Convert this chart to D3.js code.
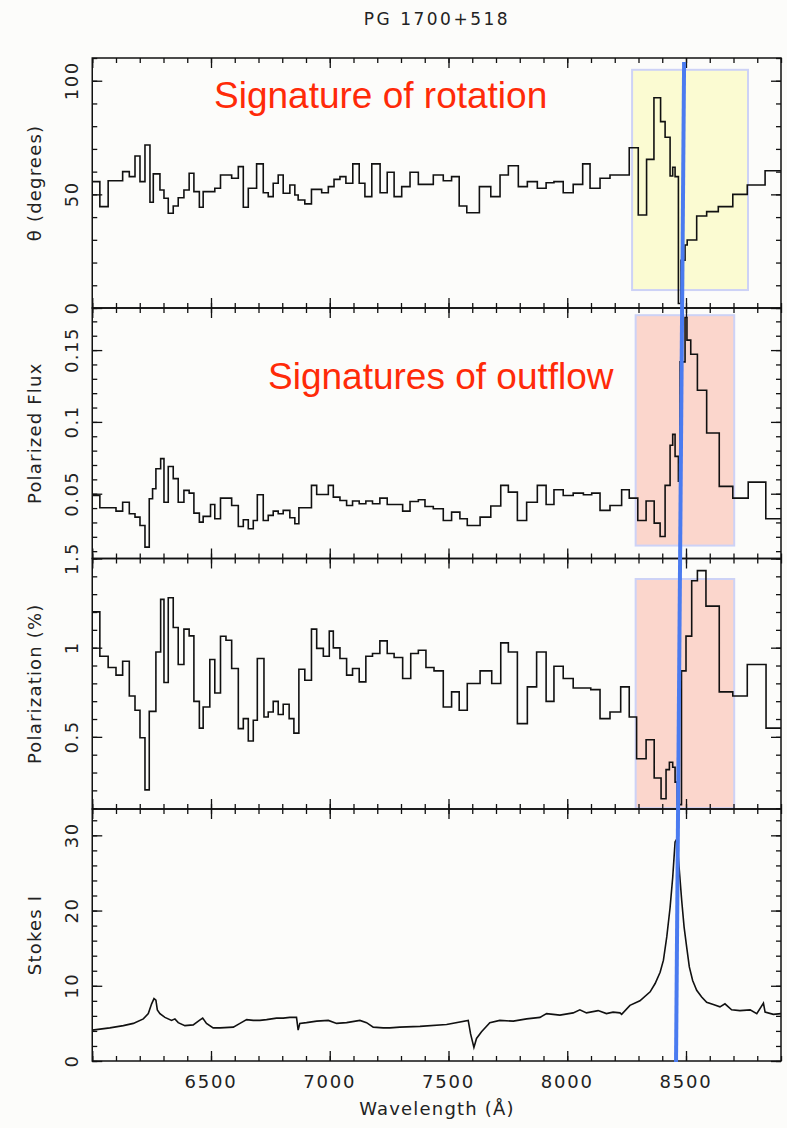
<!DOCTYPE html>
<html>
<head>
<meta charset="utf-8">
<script src="https://cdn.jsdelivr.net/npm/d3@7"></script>
<style>
  body { margin: 0; background: #fcfcfa; }
  text { font-family: "DejaVu Sans", sans-serif; fill: #222; }
</style>
</head>
<body>
<div id="chart"></div>
<script>
// Data
//= ================================
// theta (degrees), binned: bin edges (Angstrom) and one value per bin
var thetaEdges = [6000,6032,6067,6128,6156,6180,6201,6222,6243,6257,6285,6302,6320,6341,6362,6386,6408,6428,6451,6467,6516,6540,6587,6615,6636,6657,6692,6720,6741,6762,6783,6804,6832,6853,6867,6895,6923,6966,6994,7018,7043,7068,7097,7124,7148,7177,7212,7242,7271,7303,7338,7373,7436,7478,7513,7545,7577,7630,7678,7717,7752,7794,7832,7874,7911,7944,7983,8025,8065,8096,8138,8180,8261,8299,8334,8365,8393,8412,8433,8444,8454,8468,8479,8496,8505,8545,8587,8636,8697,8758,8833,8900];
var thetaValues = [55.6,44.6,56.0,60.0,57.8,66.9,55.6,71.7,46.5,59.0,51.9,48.3,41.7,44.9,48.5,51.9,59.3,51.2,44.3,51.2,52.7,58.5,57.1,62.2,44.3,52.7,63.4,50.7,49.0,54.9,58.5,50.5,54.1,49.7,47.5,45.8,52.2,50.7,53.4,56.6,57.8,54.9,63.4,54.9,49.0,63.4,50.7,59.7,49.0,53.4,59.7,54.4,58.5,56.0,57.8,44.9,41.9,53.4,49.0,58.5,62.6,53.4,55.6,52.7,55.1,55.6,50.7,54.4,63.4,52.7,57.1,58.5,70.5,40.9,65.4,92.5,82.0,75.1,58.1,61.9,57.8,2,21,27.7,29.9,40.5,42.4,44.6,50.0,54.1,60.4];

// polarized flux
var fluxEdges = [6000,6032,6100,6128,6156,6180,6201,6222,6240,6254,6268,6288,6302,6320,6341,6362,6386,6408,6428,6451,6467,6498,6516,6540,6587,6615,6636,6657,6678,6695,6720,6741,6762,6783,6804,6832,6853,6870,6923,6945,6994,7015,7043,7071,7096,7124,7152,7180,7211,7242,7307,7338,7373,7401,7436,7478,7513,7548,7579,7633,7678,7720,7752,7790,7829,7874,7911,7944,7983,8025,8068,8103,8138,8180,8229,8261,8297,8332,8366,8391,8412,8433,8444,8454,8468,8475,8496,8504,8520,8548,8587,8640,8697,8762,8836,8900];
var fluxValues = [0.0488,0.0402,0.0379,0.0441,0.0361,0.0337,0.0279,0.0128,0.0465,0.0535,0.0674,0.0744,0.0441,0.069,0.0605,0.0441,0.0523,0.0504,0.0365,0.0302,0.0342,0.0425,0.0326,0.0469,0.0418,0.0272,0.0319,0.0256,0.0314,0.0493,0.0314,0.0349,0.0379,0.0361,0.0384,0.0333,0.0291,0.0402,0.0558,0.0495,0.0558,0.0476,0.0453,0.0418,0.0449,0.043,0.0449,0.043,0.0469,0.0425,0.0379,0.0446,0.0458,0.0411,0.0395,0.0314,0.0372,0.0326,0.0279,0.0337,0.0414,0.0558,0.0511,0.0314,0.0441,0.0558,0.0425,0.0528,0.0488,0.0504,0.0493,0.0504,0.0384,0.0418,0.0528,0.0469,0.0314,0.0449,0.0295,0.0202,0.0558,0.0837,0.0913,0.076,0.0588,0.1418,0.1727,0.1569,0.1471,0.122,0.0923,0.0551,0.0469,0.0581,0.0326];

// polarization (%)
var polEdges = [6000,6032,6067,6100,6128,6156,6180,6201,6222,6240,6268,6288,6302,6320,6341,6362,6386,6408,6428,6451,6467,6495,6516,6540,6563,6587,6615,6636,6657,6678,6695,6723,6741,6762,6783,6804,6829,6849,6870,6895,6923,6945,6973,6998,7015,7043,7071,7096,7124,7152,7180,7211,7242,7271,7307,7341,7373,7405,7439,7478,7513,7545,7579,7633,7682,7720,7752,7790,7832,7871,7911,7944,7983,8025,8099,8138,8180,8225,8261,8292,8332,8366,8395,8416,8430,8444,8454,8463,8481,8500,8524,8548,8584,8640,8697,8758,8837,8900];
var polValues = [1.201,0.952,0.889,0.846,0.924,0.729,0.649,0.495,0.203,0.643,0.976,1.271,0.805,1.280,1.113,0.906,1.104,1.066,0.699,0.549,0.667,0.934,0.746,1.064,1.042,0.883,0.546,0.602,0.477,0.593,0.939,0.611,0.639,0.699,0.625,0.683,0.602,0.521,0.879,0.817,1.104,0.996,0.952,1.093,0.999,0.939,0.846,0.883,0.808,0.952,0.967,1.038,0.967,0.945,0.827,0.967,0.986,0.889,0.870,0.667,0.752,0.649,0.799,0.870,0.799,1.027,0.976,0.574,0.780,0.976,0.699,0.896,0.827,0.774,0.765,0.602,0.639,0.780,0.611,0.377,0.484,0.269,0.153,0.316,0.358,0.330,0.246,0.12,0.870,1.065,1.375,1.432,1.233,0.752,0.729,0.906,0.549];

// Stokes I spectrum (wavelength, flux)
var stokesWave = [6000,6074,6131,6173,6215,6236,6250,6260,6268,6274,6285,6306,6334,6348,6362,6390,6425,6451,6465,6481,6509,6538,6594,6622,6650,6678,6706,6734,6776,6804,6832,6860,6867,6874,6902,6945,6994,7029,7071,7127,7155,7183,7225,7253,7295,7380,7492,7583,7593,7607,7618,7639,7674,7716,7773,7829,7885,7913,7969,8025,8053,8081,8130,8165,8193,8222,8229,8264,8306,8349,8370,8391,8405,8419,8433,8444,8454,8461,8472,8482,8492,8503,8514,8528,8545,8566,8587,8615,8643,8664,8692,8727,8770,8798,8826,8833,8868,8900];
var stokesFlux = [4.1,4.4,4.7,5.0,5.6,6.3,7.6,8.3,8.1,6.8,6.3,5.8,5.4,5.6,5.1,4.7,4.8,5.4,5.7,5.0,4.4,4.4,4.5,5.0,5.5,5.4,5.4,5.5,5.7,5.7,5.8,5.8,4.1,5.0,5.1,5.3,5.4,5.0,5.1,5.4,5.1,4.5,4.4,4.4,4.5,4.6,4.85,5.4,3.6,1.8,3.0,3.9,5.1,5.4,5.3,5.6,5.8,6.3,6.1,6.4,6.8,6.4,6.7,6.3,6.5,6.4,6.2,7.4,8.0,9.2,10.3,11.8,13.4,16.5,20.4,24.4,29.1,29.5,25.3,21.3,17.8,15.1,12.5,10.7,9.4,8.5,7.8,7.5,7.2,7.6,6.8,6.7,6.8,6.3,7.7,6.5,6.2,6.3];

// highlighted wavelength ranges and value ranges
var rotationBoxWave = [8273, 8761];
var rotationBoxTheta = [7.9, 104.8];
var outflowBoxWave = [8288, 8703];
var outflowBoxFlux = [0.0139, 0.1743];
var outflowBoxPol = [0.1, 1.385];
// slanted marker line: wavelength at top and at bottom of the stack
var markerWave = [8492, 8458];

var xTickLabels = [6500, 7000, 7500, 8000, 8500];

// Set up chart
//= ================================
var svgWidth = 787;
var svgHeight = 1128;
var plotLeft = 92.25;
var plotRight = 781;
var panelEdges = [58, 308, 558.5, 809, 1061];

var svg = d3.select("#chart")
  .append("svg")
  .attr("width", svgWidth)
  .attr("height", svgHeight);

svg.append("rect")
  .attr("width", svgWidth)
  .attr("height", svgHeight)
  .attr("fill", "#fcfcfa");

var x = d3.scaleLinear().domain([6000, 8900]).range([plotLeft, plotRight]);

var panels = [
  { label: "\u03b8  (degrees)", domain: [0, 110], major: [0, 50, 100], minor: 10, fmt: d3.format("d"),
    edges: thetaEdges, values: thetaValues,
    box: { wave: rotationBoxWave, val: rotationBoxTheta, fill: "#fbfbd2" } },
  { label: "Polarized  Flux", domain: [0.0049, 0.1793], major: [0.05, 0.1, 0.15], minor: 0.01, fmt: d => String(d),
    edges: fluxEdges, values: fluxValues,
    box: { wave: outflowBoxWave, val: outflowBoxFlux, fill: "#fbd6cc" } },
  { label: "Polarization  (%)", domain: [0.0955, 1.5], major: [0.5, 1, 1.5], minor: 0.1, fmt: d => String(d),
    edges: polEdges, values: polValues,
    box: { wave: outflowBoxWave, val: outflowBoxPol, fill: "#fbd6cc" } },
  { label: "Stokes  I", domain: [0, 33.5], major: [0, 10, 20, 30], minor: 2, fmt: d3.format("d"),
    wave: stokesWave, flux: stokesFlux }
];

function stepPoints(edges, values) {
  var pts = [];
  for (var i = 0; i < values.length && i + 1 < edges.length; i++) {
    pts.push([edges[i], values[i]]);
    pts.push([edges[i + 1], values[i]]);
  }
  return pts;
}

function minorTicks(domain, step) {
  var out = [];
  var start = Math.ceil(domain[0] / step - 1e-6);
  for (var k = start; k * step <= domain[1] + 1e-9; k++) out.push(+(k * step).toFixed(4));
  return out;
}

function tickAxis(g, axis, values, size) {
  g.call(axis.tickValues(values).tickSize(-size).tickFormat(""));
  g.select(".domain").remove();
  g.selectAll(".tick line").attr("stroke", "#111").attr("stroke-width", 1.3);
}

var xMinor = d3.range(6000, 8901, 100);
var xMajor = d3.range(6000, 8901, 500);

panels.forEach(function(p, i) {
  var top = panelEdges[i];
  var bottom = panelEdges[i + 1];
  var y = d3.scaleLinear().domain(p.domain).range([bottom, top]);

  var g = svg.append("g");

  g.append("clipPath").attr("id", "clip" + i)
    .append("rect")
    .attr("x", plotLeft).attr("y", top)
    .attr("width", plotRight - plotLeft).attr("height", bottom - top);

  // highlight box
  if (p.box) {
    g.append("rect")
      .attr("x", x(p.box.wave[0]))
      .attr("y", y(p.box.val[1]))
      .attr("width", x(p.box.wave[1]) - x(p.box.wave[0]))
      .attr("height", y(p.box.val[0]) - y(p.box.val[1]))
      .attr("fill", p.box.fill)
      .attr("stroke", "#cdd2f6")
      .attr("stroke-width", 2);
  }

  // data trace
  var line = d3.line().x(d => x(d[0])).y(d => y(d[1]));
  var pts = p.edges ? stepPoints(p.edges, p.values) : p.wave.map((w, k) => [w, p.flux[k]]);
  g.append("path")
    .datum(pts)
    .attr("clip-path", "url(#clip" + i + ")")
    .attr("fill", "none")
    .attr("stroke", "#111")
    .attr("stroke-width", 1.6)
    .attr("stroke-linejoin", "miter")
    .attr("d", line);

  // frame
  g.append("rect")
    .attr("x", plotLeft).attr("y", top)
    .attr("width", plotRight - plotLeft).attr("height", bottom - top)
    .attr("fill", "none")
    .attr("stroke", "#111")
    .attr("stroke-width", 1.5);

  // inward ticks on all four sides: minor then major
  var yMinor = minorTicks(p.domain, p.minor);
  [[xMinor, p.major.length ? yMinor : yMinor, 5], [xMajor, p.major, 10]].forEach(function(set) {
    tickAxis(g.append("g").attr("transform", `translate(0,${top})`), d3.axisTop(x), set[0], set[2]);
    tickAxis(g.append("g").attr("transform", `translate(0,${bottom})`), d3.axisBottom(x), set[0], set[2]);
    tickAxis(g.append("g").attr("transform", `translate(${plotLeft},0)`), d3.axisLeft(y), set[1], set[2]);
    tickAxis(g.append("g").attr("transform", `translate(${plotRight},0)`), d3.axisRight(y), set[1], set[2]);
  });

  // rotated y tick labels
  g.selectAll("text.ylab")
    .data(p.major)
    .enter()
    .append("text")
    .attr("class", "ylab")
    .attr("transform", d => `translate(78, ${y(d)}) rotate(-90)`)
    .attr("text-anchor", "middle")
    .style("font-size", "18px")
    .style("letter-spacing", "1.5px")
    .text(p.fmt);

  // y axis title
  g.append("text")
    .attr("transform", `translate(41, ${(top + bottom) / 2}) rotate(-90)`)
    .attr("text-anchor", "middle")
    .style("font-size", "18px")
    .style("letter-spacing", "1.2px")
    .text(p.label);
});

// x tick labels and title on the bottom panel
svg.selectAll("text.xlab")
  .data(xTickLabels)
  .enter()
  .append("text")
  .attr("class", "xlab")
  .attr("x", d => x(d))
  .attr("y", 1088)
  .attr("text-anchor", "middle")
  .style("font-size", "18px")
  .style("letter-spacing", "1.8px")
  .text(d => d);

svg.append("text")
  .attr("x", 437)
  .attr("y", 1115)
  .attr("text-anchor", "middle")
  .style("font-size", "18px")
  .style("letter-spacing", "1.2px")
  .text("Wavelength  (\u00c5)");

// title
svg.append("text")
  .attr("x", 437)
  .attr("y", 25)
  .attr("text-anchor", "middle")
  .style("font-size", "17px")
  .style("letter-spacing", "2.5px")
  .text("PG 1700+518");

// annotations
svg.append("text")
  .attr("x", 214)
  .attr("y", 108)
  .style("font-family", "'Liberation Sans', Arial, sans-serif")
  .style("font-size", "37px")
  .style("fill", "#ff2a08")
  .text("Signature of rotation");

svg.append("text")
  .attr("x", 268)
  .attr("y", 389)
  .style("font-family", "'Liberation Sans', Arial, sans-serif")
  .style("font-size", "37px")
  .style("fill", "#ff2a08")
  .text("Signatures of outflow");

// slanted marker line across all panels
svg.append("line")
  .attr("x1", x(markerWave[0]))
  .attr("y1", 62)
  .attr("x2", x(markerWave[1]))
  .attr("y2", 1062)
  .attr("stroke", "#4a7bf0")
  .attr("stroke-width", 4);
</script>
</body>
</html>
